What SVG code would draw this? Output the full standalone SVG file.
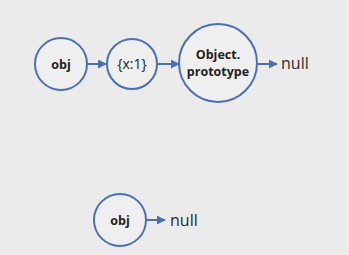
<svg xmlns="http://www.w3.org/2000/svg" width="349" height="255" viewBox="0 0 349 255">
  <style>
    .node { fill: #efefef; stroke: #4a6fb5; stroke-width: 2; }
    .label { font-family: "Open Sans", "Liberation Sans", sans-serif; font-weight: bold; font-size: 12.5px; fill: #222; text-anchor: middle; }
    .literal { font-family: "Open Sans", "Liberation Sans", sans-serif; font-size: 14px; fill: #222; text-anchor: middle; }
    .plain { font-family: "Open Sans", "Liberation Sans", sans-serif; font-size: 16px; fill: #2a2a2a; }
    .edge { stroke: #4a6fb5; stroke-width: 2; fill: none; marker-end: url(#arrow); }
  </style>
  <defs>
    <marker id="arrow" viewBox="0 0 10 10" refX="9" refY="5" markerWidth="4.5" markerHeight="4.5" orient="auto" markerUnits="strokeWidth">
      <path d="M0,0 L10,5 L0,10 z" fill="#4a6fb5"/>
    </marker>
  </defs>
  <rect width="349" height="255" fill="#ebebeb"/>

  <g id="edges">
    <line class="edge" x1="87" y1="64" x2="106" y2="64"/>
    <line class="edge" x1="158" y1="64" x2="179" y2="64"/>
    <line class="edge" x1="258" y1="64" x2="277" y2="64"/>
    <line class="edge" x1="146" y1="220" x2="165" y2="220"/>
  </g>

  <g id="obj">
    <circle class="node" cx="61" cy="64" r="26"/>
    <text class="label" x="61" y="68.5">obj</text>
  </g>
  <g id="x1">
    <circle class="node" cx="132" cy="64" r="25"/>
    <text class="literal" x="132" y="69">{x:1}</text>
  </g>
  <g id="object-prototype">
    <circle class="node" cx="218" cy="63" r="39"/>
    <text class="label" x="218" y="59">Object.</text>
    <text class="label" x="218" y="76">prototype</text>
  </g>
  <g id="null-top">
    <text class="plain" x="281" y="69">null</text>
  </g>

  <g id="obj-bottom">
    <circle class="node" cx="120" cy="220" r="26"/>
    <text class="label" x="120" y="224.5">obj</text>
  </g>
  <g id="null-bottom">
    <text class="plain" x="170" y="226">null</text>
  </g>
</svg>
